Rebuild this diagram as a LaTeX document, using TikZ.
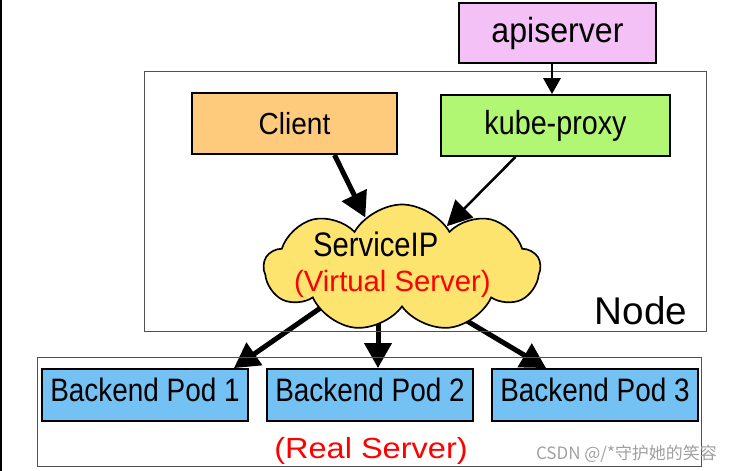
\documentclass[tikz,border=0pt]{standalone}
\usepackage{fontspec}
\setmainfont{Liberation Sans}
\newfontfamily\narrowsans{Liberation Sans}[FakeStretch=0.86]
\newfontfamily\midsans{Liberation Sans}[FakeStretch=0.92]
\newfontfamily\widesans{Liberation Sans}[FakeStretch=1.12]
\newfontfamily\cjkfont{Noto Sans CJK SC}
\usepackage{xcolor}
\definecolor{apifill}{HTML}{F4C1F7}
\definecolor{clientfill}{HTML}{FECB7C}
\definecolor{proxyfill}{HTML}{B1F774}
\definecolor{podfill}{HTML}{74C1F3}
\definecolor{cloudfill}{HTML}{FDE46F}
\definecolor{framegray}{HTML}{505050}
\definecolor{marktext}{HTML}{A0A0A0}
\usetikzlibrary{shapes.symbols, arrows.meta, positioning, calc, backgrounds}

\begin{document}
\begin{tikzpicture}[
        x=0.3mm, y=-0.3mm,
        font=\midsans\fontsize{26}{30}\selectfont,
        box_node/.style={
            rectangle,
            draw=black,
            line width=0.55mm,
            inner sep=0pt,
            align=center,
            minimum height=18.3mm
        },
        pod_node/.style={
            box_node,
            fill=podfill,
            minimum width=61.8mm,
            minimum height=15.6mm,
            text height=7.5mm,
            text depth=3.3mm,
            font=\narrowsans\fontsize{27.7}{32}\selectfont
        },
        frame_node/.style={
            rectangle,
            draw=framegray,
            line width=0.3mm,
            inner sep=0pt
        },
        cloud_node/.style={
            cloud, cloud puffs=9, cloud puff arc=120, cloud ignores aspect,
            draw=black,
            line width=0.5mm,
            fill=cloudfill,
            minimum width=82.8mm,
            minimum height=38.1mm,
            inner sep=0pt
        },
        fat_arrow/.style={
            -{Triangle[length=7.5mm, width=8mm]},
            line width=1.5mm
        },
        thin_arrow/.style={
            -{Triangle[length=7.5mm, width=7.5mm]},
            line width=0.75mm
        }
    ]
    \useasboundingbox (0,0) rectangle (737,471);
    \draw[line width=0.6mm] (1,0) -- (1,471);

    % Frames (Node and pods)
    \node[frame_node, minimum width=168.3mm, minimum height=78mm] (nodebox) at (425.5,202) {};
    \node[frame_node, minimum width=198.9mm, minimum height=32.7mm] (podbox) at (369.5,412.5) {};
    \node[anchor=base east, inner sep=0pt, font=\rmfamily\fontsize{33}{40}\selectfont] (nodelabel) at ($(nodebox.south east)+(-19,-8)$) {Node};

    % Top boxes
    \node[box_node, fill=apifill, minimum width=59.1mm, minimum height=18mm, font=\midsans\fontsize{29.8}{34}\selectfont] (api) at (557.5,33) {apiserver};
    \node[box_node, fill=clientfill, minimum width=61.5mm] (client) at (294.5,123.5) {Client};
    \node[box_node, fill=proxyfill, minimum width=68.7mm, font=\narrowsans\fontsize{28.5}{33}\selectfont] (proxy) at (555.5,125.5) {kube-proxy};

    % ServiceIP cloud
    \node[cloud_node] (sip) at (402,268) {};
    \coordinate (hub) at ($(sip.center)+(-24,0)$);
    \node[anchor=base west, inner sep=0pt, font=\narrowsans\fontsize{29}{34}\selectfont] (siptext) at ($(sip.center)+(-89,-11)$) {ServiceIP};
    \node[anchor=base west, inner sep=0pt, text=red, font=\rmfamily\fontsize{25}{30}\selectfont] (virtual) at ($(sip.center)+(-108,24)$) {(Virtual Server)};

    % Backend pods
    \node[pod_node] (pod1) at (145,395) {Backend Pod 1};
    \node[pod_node] (pod2) at (370,395) {Backend Pod 2};
    \node[pod_node] (pod3) at (595,395) {Backend Pod 3};
    \node[text=red, font=\widesans\fontsize{24.8}{30}\selectfont] (real) at ($(podbox.south)+(1.5,-17)$) {(Real Server)};
    \node[font=\cjkfont\fontsize{14.5}{16}\selectfont, text=marktext] (mark) at ($(podbox.south east)+(-75,-14)$) {CSDN @/*守护她的笑容};

    % Arrows
    \draw[-{Triangle[length=4.8mm, width=5.2mm]}, line width=0.6mm] (api.south -| 552,0) -- (proxy.north -| 552,0);
    \draw[fat_arrow] ($(client.south)+(40,0)$) -- (sip.126);
    \draw[thin_arrow] ($(proxy.south)+(-40,0)$) -- (sip.43);

    \begin{scope}[on background layer]
        \draw[fat_arrow] (hub) -- ($(pod1.north east)+(-15,0)$);
        \draw[fat_arrow] (hub) -- (hub |- pod2.north);
        \draw[fat_arrow] (hub) -- ($(pod3.north west)+(55,0)$);
    \end{scope}

    \end{tikzpicture}
\end{document}
